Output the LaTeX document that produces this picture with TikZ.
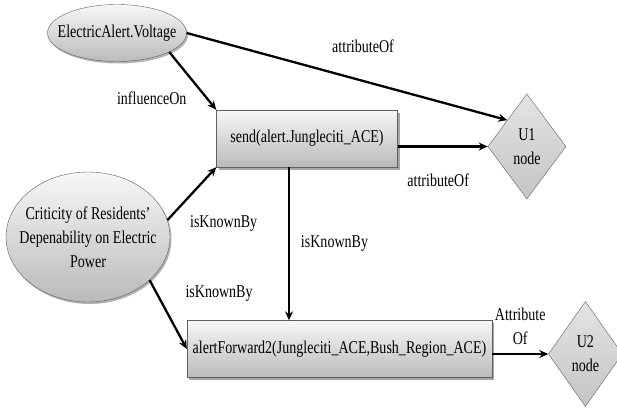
\documentclass[tikz,border=0pt]{standalone}
\usepackage{fontspec}
\setmainfont{Liberation Serif}[FakeStretch=0.78]
\usepackage{tikz}
\usetikzlibrary{arrows.meta,shapes.geometric,positioning,shadows}
\definecolor{nodetop}{RGB}{247,247,247}
\definecolor{nodebottom}{RGB}{186,186,186}
\definecolor{unodetop}{RGB}{228,228,228}
\definecolor{unodebottom}{RGB}{196,196,196}
\definecolor{edgegray}{RGB}{95,95,95}

\begin{document}
\begin{tikzpicture}[
  x=1pt, y=-1pt,
  font=\fontsize{18}{24}\selectfont,
  concept/.style={ellipse, draw=edgegray, top color=nodetop,
                  bottom color=nodebottom, align=center,
                  inner xsep=-12pt, inner ysep=0pt,
                  drop shadow={shadow xshift=1.5pt, shadow yshift=-2pt,
                               fill=black, opacity=.3}},
  act/.style={rectangle, draw=edgegray, top color=nodetop,
              bottom color=nodebottom, minimum height=57pt, inner sep=2pt,
              drop shadow={shadow xshift=2pt, shadow yshift=-2.5pt,
                           fill=black, opacity=.35}},
  unode/.style={diamond, draw=edgegray, top color=unodetop,
                bottom color=unodebottom, aspect=0.75, align=center,
                minimum width=78pt, minimum height=105pt, inner sep=1pt},
  arr/.style={-{Stealth[length=9pt,width=8pt]}, line width=2.3pt},
  lab/.style={align=center},
]
\useasboundingbox (0,0) rectangle (617,409);

\node[concept, minimum width=139pt, minimum height=57pt] (volt) at (117,33)
     {ElectricAlert.Voltage};
\node[concept, minimum width=164pt, minimum height=130pt] (crit) at (88,237)
     {Criticity of Residents'\\Depenability on Electric\\Power};
\node[act, minimum width=181pt] (send) at (307,138.5)
     {send(alert.Jungleciti\_ACE)};
\node[act, minimum width=305pt] (fwd) at (339.5,349)
     {alertForward2(Jungleciti\_ACE,Bush\_Region\_ACE)};
\node[unode, right=90pt of send, yshift=-8pt] (u1) {U1\\node};
\node[unode, right=56pt of fwd, yshift=-5pt, minimum width=74pt] (u2) {U2\\node};

\draw[arr] (volt.east) -- (u1.north west)
           node[lab, pos=0.55, above=24pt] (lvu) {attributeOf};
\draw[arr] (volt.-20) -- (send.north west)
           node[lab, pos=0.8, left=16pt] (lvs) {influenceOn};
\draw[arr] (send.east |- u1.west) -- (u1.west)
           node[lab, pos=0.45, below=23pt] (lsu) {attributeOf};
\draw[arr] (crit.12) -- (send.south west)
           node[lab, pos=0.25, below right=4pt and 6pt] (lcs) {isKnownBy};
\draw[arr] (crit.-35) -- (fwd.west)
           node[lab, pos=0.2, right=24pt] (lcf) {isKnownBy};
% send -> forward, a bit left of the box middle
\draw[arr, line width=1.3pt] ([xshift=-18pt]send.south) -- ([xshift=-18pt]send.south |- fwd.north)
           node[lab, midway, right=8pt] (lsf) {isKnownBy};
\draw[arr] (fwd.east |- u2.west) -- (u2.west)
           node[lab, midway, above=5pt] (lfu) {Attribute\\Of};
\end{tikzpicture}
\end{document}
